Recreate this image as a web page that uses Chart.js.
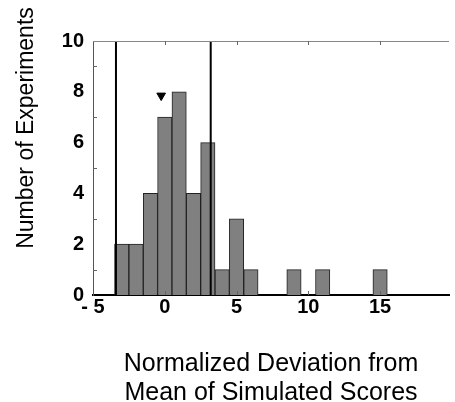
<!DOCTYPE html>
<html>
<head>
<meta charset="utf-8">
<script src="https://cdn.jsdelivr.net/npm/chart.js@4"></script>
<style>
body{margin:0;background:#fff}
#wrap{width:455px;height:402px}
</style>
</head>
<body>
<div id="wrap"><canvas id="myChart"></canvas></div>
<script>
// histogram bins (centre of each 1-unit bin) and counts
const binCenters = [-3, -2, -1, 0, 1, 2, 3, 4, 5, 6, 9, 11, 15];
const counts = [2, 2, 4, 7, 8, 4, 6, 1, 3, 1, 1, 1, 1];
// the two vertical cut-off lines
const cutoffs = [-3.4, 3.2];
// the black triangle above the peak
const markX = [-0.25];
const markY = [7.85];
const xTicks = [-5, 0, 5, 10, 15];
const yMinor = [1, 3, 5, 7, 9];
const yTitle = 'Number of Experiments';
const xTitle = ['Normalized Deviation from', 'Mean of Simulated Scores'];

const FONT = '"Liberation Sans", Arial, sans-serif';

let barData = binCenters.map((c, i) => ({x: c, y: counts[i]}));
let cutoffSets = cutoffs.map(v => ({
  type: 'line',
  data: [{x: v, y: 0}, {x: v, y: 10}],
  borderColor: '#000',
  borderWidth: 2,
  pointRadius: 0,
  fill: false,
  order: 0
}));

// top border, inward tick marks and the y title
const frame = {
  id: 'frame',
  afterDraw(chart) {
    const {ctx, chartArea: a, scales: {x, y}} = chart;
    ctx.save();
    ctx.strokeStyle = '#888';
    ctx.lineWidth = 1;
    ctx.beginPath();
    ctx.moveTo(a.left, a.top + 0.5);
    ctx.lineTo(a.right, a.top + 0.5);
    ctx.stroke();
    ctx.strokeStyle = '#666';
    ctx.beginPath();
    xTicks.forEach(v => {
      if (v <= -5) return;
      let px = Math.round(x.getPixelForValue(v)) + 0.5;
      ctx.moveTo(px, a.top); ctx.lineTo(px, a.top + 4);
      ctx.moveTo(px, a.bottom); ctx.lineTo(px, a.bottom - 4);
    });
    yMinor.forEach(v => {
      let py = Math.round(y.getPixelForValue(v)) + 0.5;
      ctx.moveTo(a.left, py); ctx.lineTo(a.left + 4, py);
    });
    ctx.stroke();

    ctx.fillStyle = '#000';
    ctx.font = '23px ' + FONT;
    ctx.textAlign = 'center';
    ctx.textBaseline = 'alphabetic';
    ctx.translate(33, 128);
    ctx.rotate(-Math.PI / 2);
    ctx.fillText(yTitle, 0, 0);
    ctx.restore();
  }
};

const ctx = document.getElementById('myChart');
const myChart = new Chart(ctx, {
  type: 'bar',
  data: {
    datasets: [
      {
        data: barData,
        backgroundColor: '#808080',
        borderColor: '#222',
        borderWidth: 1,
        barPercentage: 1,
        categoryPercentage: 1,
        order: 1
      },
      ...cutoffSets,
      {
        type: 'scatter',
        data: markX.map((v, i) => ({x: v, y: markY[i]})),
        pointStyle: 'triangle',
        rotation: 180,
        pointRadius: 5,
        backgroundColor: '#000',
        borderColor: '#000',
        order: 0
      }
    ]
  },
  options: {
    responsive: true,
    maintainAspectRatio: false,
    animation: false,
    layout: {padding: {left: 0, right: 1, top: 41, bottom: 0}},
    plugins: {legend: {display: false}, tooltip: {enabled: false}},
    scales: {
      x: {
        type: 'linear',
        min: -5,
        max: 19.8,
        offset: false,
        grid: {display: false, drawTicks: false},
        border: {display: true, color: '#000', width: 2},
        afterBuildTicks: s => { s.ticks = xTicks.map(v => ({value: v})); },
        afterFit: s => { s.height = 107; },
        ticks: {
          padding: 0,
          color: '#000',
          font: {family: FONT, size: 20, weight: 'bold'},
          callback: v => v < 0 ? '- ' + Math.abs(v) : v
        },
        title: {
          display: true,
          text: xTitle,
          color: '#000',
          font: {family: FONT, size: 25, lineHeight: '29px'},
          padding: {top: 0, bottom: -6}
        }
      },
      y: {
        min: 0,
        max: 10,
        grid: {display: false, drawTicks: false},
        border: {display: true, color: '#555', width: 1},
        afterFit: s => { s.width = 93; },
        ticks: {
          stepSize: 2,
          padding: 9,
          color: '#000',
          font: {family: FONT, size: 20, weight: 'bold'}
        }
      }
    }
  },
  plugins: [frame]
});
</script>
</body>
</html>
